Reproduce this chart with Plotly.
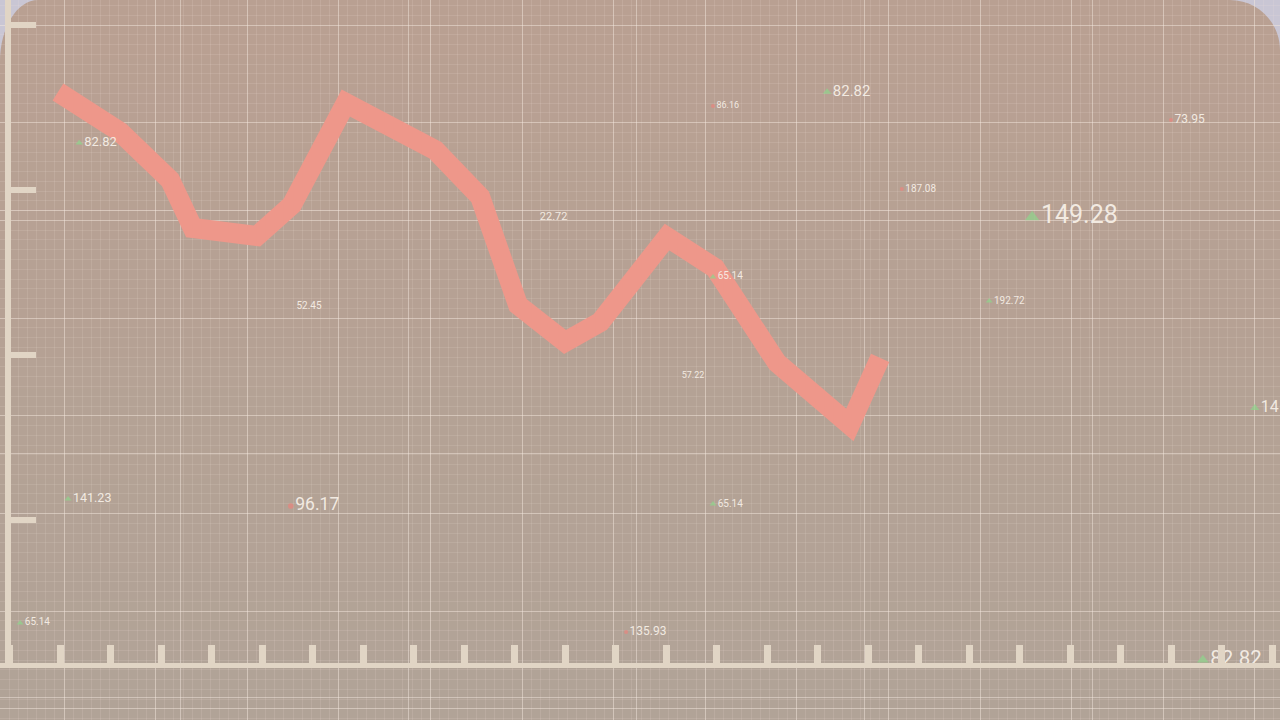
import plotly.graph_objects as go

# ---------------- data ----------------
# main series (time index, price)
series_t = [0.96, 2.19, 3.18, 3.63, 4.90, 5.59, 6.66, 8.43, 9.32, 10.07,
            11.00, 11.70, 13.02, 13.97, 15.20, 16.64, 17.24]
series_v = [35.94, 33.52, 30.61, 27.70, 27.21, 29.09, 35.27, 32.42, 29.58, 23.03,
            20.79, 22.00, 27.15, 25.27, 19.52, 15.76, 19.82]

# floating ticker labels
ticker_text = ["82.82", "82.82", "86.16", "22.72", "52.45", "65.14", "57.22",
               "149.28", "187.08", "192.72", "73.95", "14", "141.23", "96.17",
               "65.14", "65.14", "135.93", "57.22", "82.82"]
ticker_t = [1.38, 16.19, 13.93, 10.47, 5.65, 13.93, 13.28, 20.25, 17.67, 19.40,
            23.00, 24.66, 1.16, 5.57, 13.93, 0.21, 12.21, 15.89, 23.63]
ticker_v = [32.85, 35.94, 35.09, 28.36, 22.91, 24.73, 18.73, 28.36, 30.06, 23.27,
            34.24, 16.79, 11.27, 10.85, 10.97, 3.76, 3.21, -0.48, 1.52]
ticker_dir = ["up", "up", "down", "none", "none", "up", "none", "up", "down", "up",
              "down", "up", "up", "down", "up", "up", "down", "down", "up"]

# ---------------- styles ----------------
ticker_font_px = [13, 15, 9, 11, 10, 10, 9, 25, 10, 10, 12, 16, 12.5, 17.5, 10, 10, 12, 12.5, 20.5]
UP_COL = "#8fd48b"
DOWN_COL = "#e8857e"
TEXT_COL = "rgba(246,239,231,0.95)"
AXIS_COL = "#e1d5c5"
LINE_COL = "#ee978a"
W, H = 1280, 720

fig = go.Figure()

# dummy traces so grid subplots exist
fig.add_trace(go.Scatter(x=[None], y=[None], xaxis="x", yaxis="y", showlegend=False, hoverinfo="skip"))
fig.add_trace(go.Scatter(x=[None], y=[None], xaxis="x2", yaxis="y2", showlegend=False, hoverinfo="skip"))

# main line
fig.add_trace(go.Scatter(
    x=series_t, y=series_v, xaxis="x3", yaxis="y3", mode="lines",
    line=dict(color=LINE_COL, width=20), showlegend=False, hoverinfo="skip",
))

# ticker labels
marker_col = [UP_COL if d == "up" else (DOWN_COL if d == "down" else "rgba(0,0,0,0)") for d in ticker_dir]
marker_sym = ["triangle-up" if d == "up" else "circle" for d in ticker_dir]
marker_size = [max(6, 0.5 * s) if d == "up" else (max(4, 0.32 * s) if d == "down" else 1)
               for d, s in zip(ticker_dir, ticker_font_px)]
fig.add_trace(go.Scatter(
    x=ticker_t, y=ticker_v, xaxis="x3", yaxis="y3", mode="markers+text",
    text=ticker_text, textposition="middle right",
    textfont=dict(family="Roboto, Lato, sans-serif", size=ticker_font_px, color=TEXT_COL),
    marker=dict(symbol=marker_sym, color=marker_col, size=marker_size, line=dict(width=0)),
    cliponaxis=False, showlegend=False, hoverinfo="skip",
))

# ---------------- background ----------------
shapes = []
top = (185, 160, 146)
bot = (177, 163, 151)
nb = 24
for i in range(nb):
    f = i / (nb - 1)
    c = tuple(round(top[k] + (bot[k] - top[k]) * f) for k in range(3))
    shapes.append(dict(type="rect", xref="paper", yref="paper", layer="below",
                       x0=0, x1=1, y0=1 - (i + 1) / nb, y1=1 - i / nb + 0.001,
                       fillcolor="rgb(%d,%d,%d)" % c, line=dict(width=0)))


def P(px, py):
    return "%.5f,%.5f" % (px / W, 1 - py / H)


corner_col = "#c9c6d4"
tl = ("M " + P(38, 0) + " L " + P(0, 0) + " L " + P(0, 62) +
      " C " + P(0, 27.8) + " " + P(17, 0) + " " + P(38, 0) + " Z")
tr = ("M " + P(1230, 0) + " L " + P(1280, 0) + " L " + P(1280, 50) +
      " C " + P(1280, 22.4) + " " + P(1257.6, 0) + " " + P(1230, 0) + " Z")
for p in (tl, tr):
    shapes.append(dict(type="path", xref="paper", yref="paper", layer="below", path=p,
                       fillcolor=corner_col, line=dict(width=0)))

hidden = dict(showticklabels=False, ticks="", zeroline=False, showline=False, fixedrange=True)
GRID_MAJ = "rgba(244,232,222,0.5)"
GRID_MIN = "rgba(244,232,222,0.13)"

fig.update_layout(
    width=W, height=H, margin=dict(l=0, r=0, t=0, b=0),
    paper_bgcolor="#b4a294", plot_bgcolor="rgba(0,0,0,0)",
    shapes=shapes, showlegend=False,
    xaxis=dict(domain=[0, 1], range=[0, 1280], anchor="y", tick0=64, dtick=91.6,
               showgrid=True, gridcolor=GRID_MAJ, gridwidth=1,
               minor=dict(dtick=9.16, tick0=64, showgrid=True, gridcolor=GRID_MIN, gridwidth=1),
               **hidden),
    yaxis=dict(domain=[0, 1], range=[720, 0], anchor="x", tick0=25, dtick=97.7,
               showgrid=True, gridcolor=GRID_MAJ, gridwidth=1,
               minor=dict(dtick=9.77, tick0=25, showgrid=True, gridcolor=GRID_MIN, gridwidth=1),
               **hidden),
    xaxis2=dict(domain=[0, 1], range=[0, 1280], anchor="y2", tick0=180, dtick=228,
                showgrid=True, gridcolor="rgba(246,236,226,0.45)", gridwidth=1, **hidden),
    yaxis2=dict(domain=[0, 1], range=[720, 0], anchor="x2", tick0=210, dtick=243.5,
                showgrid=True, gridcolor="rgba(246,236,226,0.45)", gridwidth=1, **hidden),
    xaxis3=dict(domain=[0, 1], range=[-9.5 / 50.5, (1280 - 9.5) / 50.5], anchor="y3",
                showgrid=False, zeroline=False, showticklabels=False,
                showline=True, linecolor=AXIS_COL, linewidth=5,
                ticks="inside", tick0=0, dtick=1, ticklen=18, tickwidth=7, tickcolor=AXIS_COL,
                fixedrange=True),
    yaxis3=dict(domain=[57 / 720, 1], range=[22 / 16.5, 685 / 16.5], anchor="free",
                position=8 / 1280,
                showgrid=False, zeroline=False, showticklabels=False,
                showline=True, linecolor=AXIS_COL, linewidth=6,
                ticks="inside", tick0=10, dtick=10, ticklen=25, tickwidth=6, tickcolor=AXIS_COL,
                fixedrange=True),
)

fig.write_html(
    "out.html",
    config={"displayModeBar": False},
    post_script="document.body.style.margin='0';document.body.style.overflow='hidden';",
)
